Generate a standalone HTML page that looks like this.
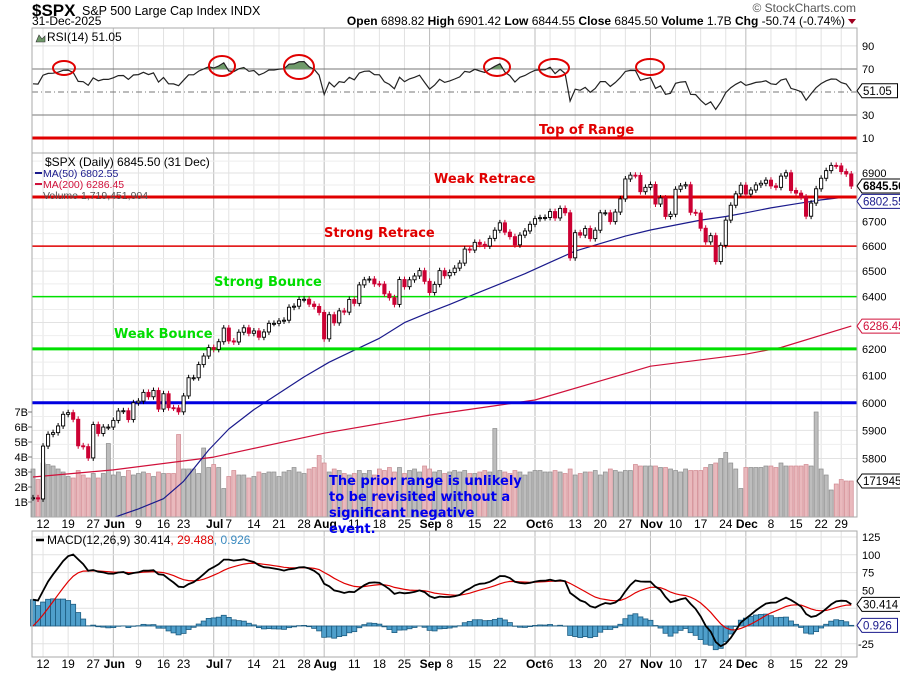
<!DOCTYPE html>
<html><head><meta charset="utf-8"><style>
html,body{margin:0;padding:0;background:#fff;}
svg{display:block;font-family:"Liberation Sans",sans-serif;}
.ann{font-family:"DejaVu Sans","Liberation Sans",sans-serif;font-weight:bold;font-size:13px;}
</style></head><body>
<svg id="c" width="900" height="673" viewBox="0 0 900 673">
  <g>
    <text x="32" y="16" font-size="17" font-weight="bold">$SPX</text>
    <text x="82" y="15" font-size="12.5">S&amp;P 500 Large Cap Index  INDX</text>
    <text x="32" y="25" font-size="12">31-Dec-2025</text>
    <text x="856" y="12" font-size="12" fill="#555" text-anchor="end">© StockCharts.com</text>
    <text x="845" y="25" font-size="12" text-anchor="end"><tspan font-weight="bold">Open</tspan> 6898.82  <tspan font-weight="bold">High</tspan> 6901.42  <tspan font-weight="bold">Low</tspan> 6844.55  <tspan font-weight="bold">Close</tspan> 6845.50  <tspan font-weight="bold">Volume</tspan> 1.7B  <tspan font-weight="bold">Chg</tspan> -50.74 (-0.74%)</text>
    <polygon points="848,19 856,19 852,24" fill="#a00020"/>
  </g>
  <g id="grid"></g>
  <g id="rsi"></g>
  <g id="price"></g>
  <g id="macd"></g>
  <g id="axes"></g>
  <g id="anns">
    <text class="ann" x="539" y="134" fill="#e00000">Top of Range</text>
    <text class="ann" x="434" y="183" fill="#e00000">Weak Retrace</text>
    <text class="ann" x="324" y="237" fill="#e00000">Strong Retrace</text>
    <text class="ann" x="214" y="286" fill="#00dd00">Strong Bounce</text>
    <text class="ann" x="114" y="338" fill="#00dd00">Weak Bounce</text>
    <text class="ann" fill="#0000ee"><tspan x="329" y="485">The prior range is unlikely</tspan><tspan x="329" y="501">to be revisited without a</tspan><tspan x="329" y="517">significant negative</tspan><tspan x="329" y="533">event.</tspan></text>
  </g>
</svg>
<script>
const closes=[5663,5659,5844,5886,5892,5916,5958,5964,5940,5845,5842,5802,5921,5889,5912,5912,
5936,5970,5971,5939,6000,6006,6038,6022,6045,5977,6033,5982,5981,5967,6025,6092,6092,6141,6173,6205,
6198,6227,6279,6230,6226,6263,6280,6259,6268,6244,6264,6297,6297,6306,6309,6359,6363,6389,6390,6371,6362,6339,
6238,6330,6299,6345,6340,6389,6374,6446,6466,6469,6450,6449,6411,6396,6370,6467,6439,6466,6481,6502,6460,
6416,6448,6502,6482,6495,6512,6532,6588,6584,6615,6607,6600,6631,6664,6694,6656,6638,6605,6644,6661,6688,
6711,6715,6716,6740,6714,6753,6735,6553,6654,6644,6671,6630,6664,6735,6735,6699,6738,6792,6875,6891,6890,6822,6840,
6852,6771,6796,6720,6729,6832,6846,6851,6737,6734,6672,6617,6642,6538,6603,6705,6766,6813,6849,
6812,6829,6850,6857,6870,6846,6840,6887,6901,6827,6816,6800,6721,6775,6834,6878,6910,6932,6930,6906,6896,6845.5];
const volumes=[3.2,2.5,3.6,3.5,3.4,3.2,3.0,2.7,2.6,3.1,2.8,2.6,2.9,2.6,2.9,4.9,
2.8,3.0,2.7,3.1,2.8,2.9,3.0,2.9,2.7,3.0,2.9,2.9,2.9,5.5,3.2,3.2,3.2,2.9,4.6,3.3,
3.5,3.3,1.9,2.7,3.1,2.8,2.8,2.6,2.7,3.0,2.9,3.0,3.0,2.7,3.0,3.1,3.3,3.0,2.9,3.2,3.3,4.1,
3.6,3.0,3.2,3.1,2.9,2.8,2.9,3.1,2.9,3.1,2.8,3.2,3.1,3.3,3.0,3.3,2.9,3.1,3.2,3.0,3.4,
3.2,3.0,3.1,2.9,3.0,3.1,3.0,3.1,2.9,2.9,3.0,3.1,3.0,5.9,3.1,3.0,2.9,3.1,3.0,2.8,3.0,
3.1,3.1,3.0,3.0,3.1,3.0,2.9,3.2,2.8,2.9,3.0,3.0,3.1,2.8,3.0,3.2,3.1,3.0,3.1,3.1,3.5,3.4,3.4,
3.4,3.4,3.3,3.3,3.2,3.1,3.0,3.2,3.1,3.1,3.1,3.3,3.5,3.6,3.9,4.3,3.6,3.2,1.9,
3.3,3.3,3.3,3.3,3.4,3.4,3.3,3.6,3.4,3.4,3.4,3.4,3.5,3.4,7.0,3.2,2.8,1.8,2.2,2.5,2.4,2.4];
const ma50Dates=["2025-06-02","2025-06-09","2025-06-16","2025-06-23","2025-06-30","2025-07-07","2025-07-14","2025-07-21","2025-07-28","2025-08-04","2025-08-11","2025-08-18","2025-08-25","2025-09-02","2025-09-08","2025-09-15","2025-09-22","2025-09-29","2025-10-06","2025-10-13","2025-10-20","2025-10-27","2025-11-03","2025-11-10","2025-11-17","2025-11-24","2025-12-01","2025-12-08","2025-12-15","2025-12-22","2025-12-31"];
const ma50Values=[5595,5625,5660,5720,5830,5905,5975,6035,6095,6150,6195,6240,6300,6340,6370,6410,6450,6490,6535,6580,6610,6640,6665,6685,6705,6720,6735,6755,6772,6788,6802.55];
const ma200Dates=["2025-05-08","2025-06-02","2025-07-01","2025-08-01","2025-09-02","2025-10-01","2025-11-03","2025-12-01","2025-12-10","2025-12-31"];
const ma200Values=[5735,5760,5805,5890,5955,6010,6135,6180,6205,6286.45];
const tickDates=["2025-05-12","2025-05-19","2025-05-27","2025-06-02","2025-06-09","2025-06-16","2025-06-23","2025-07-01","2025-07-07","2025-07-14","2025-07-21","2025-07-28","2025-08-01","2025-08-11","2025-08-18","2025-08-25","2025-09-02","2025-09-08","2025-09-15","2025-09-22","2025-10-01","2025-10-06","2025-10-13","2025-10-20","2025-10-27","2025-11-03","2025-11-10","2025-11-17","2025-11-24","2025-12-01","2025-12-08","2025-12-15","2025-12-22","2025-12-29"];
const tickLabels=["12","19","27","Jun","9","16","23","Jul","7","14","21","28","Aug","11","18","25","Sep","8","15","22","Oct","6","13","20","27","Nov","10","17","24","Dec","8","15","22","29"];
const priceTicks=[5800,5900,6000,6100,6200,6300,6400,6500,6600,6700,6800,6900];
const volTicks=[1,2,3,4,5,6,7];
const rsiTicks=[10,30,70,90];
const macdTicks=[-25,0,25,50,75,100,125];
const levels=[6800,6600,6400,6200,6000];

const hol=["2025-05-26","2025-06-19","2025-07-04","2025-09-01","2025-11-27","2025-12-25"];
const days=[];
for(let d=new Date(Date.UTC(2025,4,8));days.length<closes.length;d.setUTCDate(d.getUTCDate()+1)){
  const s=d.toISOString().slice(0,10),w=d.getUTCDay();
  if(w===0||w===6||hol.includes(s))continue; days.push(s);
}
const idx=s=>{let i=days.indexOf(s);if(i<0){i=days.findIndex(x=>x>s);}return i;};
const L=32,R=857,X0=33,DX=5.02;
const x=i=>X0+i*DX;
const yP=p=>173+(Math.log(6900)-Math.log(p))*1644;
const yV=v=>517-v*15;
const yR=v=>92-(v-50)*1.153;
const yM=v=>626-v*0.712;
const NS="http://www.w3.org/2000/svg";
function mk(par,tag,at,txt){const e=document.createElementNS(NS,tag);for(const k in at)e.setAttribute(k,at[k]);if(txt!=null)e.textContent=txt;par.appendChild(e);return e;}
const G=document.getElementById('grid'),A=document.getElementById('axes');
const gR=document.getElementById('rsi'),gP=document.getElementById('price'),gM=document.getElementById('macd');
const panels=[[28,153],[153,517],[531,657]];
tickDates.forEach((d,k)=>{const xi=x(idx(d));const month=isNaN(+tickLabels[k]);
  panels.forEach(p=>{const l=mk(G,'line',{x1:xi,x2:xi,y1:p[0],y2:p[1],stroke:month?'#bbb':'#e2e2e2','stroke-width':1});
    });
  [524,664].forEach(yy=>{const t=mk(A,'text',{x:xi+(month?1:0),y:yy+4,'font-size':12,'text-anchor':'middle','font-weight':month?'bold':'normal'},tickLabels[k]);
    });
});
panels.forEach(p=>{const r=mk(A,'rect',{x:L,y:p[0],width:R-L,height:p[1]-p[0],fill:'none',stroke:'#aaa'});
  });
rsiTicks.forEach(v=>{const l=mk(G,'line',{x1:L,x2:R,y1:yR(v),y2:yR(v),stroke:(v==30||v==70)?'#777':'#ddd'});
  
  const t=mk(A,'text',{x:862,y:yR(v)+4,'font-size':11},v);});
[50].forEach(v=>{const l=mk(G,'line',{x1:L,x2:R,y1:yR(v),y2:yR(v),stroke:'#777','stroke-dasharray':'6,3,1,3'});
  });
let ag=40,al=30;const rsi=[];
for(let i=0;i<closes.length;i++){if(i>0){const ch=closes[i]-closes[i-1];ag=(ag*13+Math.max(ch,0))/14;al=(al*13+Math.max(-ch,0))/14;}rsi.push(100-100/(1+ag/al));}
const rp=rsi.map((v,i)=>x(i).toFixed(1)+','+yR(v).toFixed(1)).join(' ');
const defs=mk(document.getElementById('c'),'defs',{});
const cp=mk(defs,'clipPath',{id:'ob'});mk(cp,'rect',{x:L,y:28,width:R-L,height:yR(70)-28});
const fa=mk(gR,'polygon',{points:x(0)+','+yR(70)+' '+rp+' '+x(rsi.length-1)+','+yR(70),fill:'#6f9a6a','clip-path':'url(#ob)'});

const rl=mk(gR,'polyline',{points:rp,fill:'none',stroke:'#222','stroke-width':1.2});

const circles=[[64,68,11,7],[222,66,13,10],[299,67,15,12],[497,67,13,9],[554,68,15,9],[650,67,14,8]];
circles.forEach(c=>{const e=mk(gR,'ellipse',{cx:c[0],cy:c[1],rx:c[2],ry:c[3],fill:'none',stroke:'#e00000','stroke-width':2});
  });
const trl=mk(gR,'line',{x1:L,x2:R,y1:138,y2:138,stroke:'#e00000','stroke-width':3});

mk(gR,'path',{d:'M36,42 l3,-7 l3,4 l3,-3 v6z',fill:'#6f9a6a',stroke:'#333','stroke-width':0.6});
const rt=mk(gR,'text',{x:47,y:41,'font-size':12},'RSI(14) '+rsi[rsi.length-1].toFixed(2));

function tag(par,yy,txt,col,bold,name){const w=txt.length*6.3+4;
  const p=mk(par,'path',{d:`M857,${yy} l5,-7 h${w} v14 h-${w} z`,fill:'#fff',stroke:col});
  
  const t=mk(par,'text',{x:863,y:yy+4,'font-size':bold?11.5:11.5,fill:bold?'#000':col,'font-weight':bold?'bold':'normal'},txt);
  }
tag(A,yR(rsi[rsi.length-1]),rsi[rsi.length-1].toFixed(2),'#000',false,'rsi-value-tag');
priceTicks.forEach(p=>{const l=mk(G,'line',{x1:L,x2:R,y1:yP(p),y2:yP(p),stroke:'#e2e2e2'});
  
  const l2=mk(G,'line',{x1:L,x2:R,y1:yP(p+50),y2:yP(p+50),stroke:'#eee'});
  
  if(p!==6300&&p!==6800){const t=mk(A,'text',{x:862,y:yP(p)+4,'font-size':11},p);}});
volTicks.forEach(v=>{const t=mk(A,'text',{x:28,y:yV(v)+4,'font-size':11,'text-anchor':'end'},v+'B');
  
  const l=mk(A,'line',{x1:28,x2:32,y1:yV(v),y2:yV(v),stroke:'#777'});});
volumes.forEach((v,i)=>{const dn=i>0&&closes[i]<closes[i-1];
  const r=mk(gP,'rect',{x:x(i)-2,y:yV(v),width:4,height:517-yV(v),fill:dn?'#e9b9bd':'#bdbdbd',stroke:dn?'#d08890':'#8c8c8c','stroke-width':0.7});
  });
function mline(ds,vs,col,name){const pts=ds.map((d,k)=>x(idx(d)).toFixed(1)+','+yP(vs[k]).toFixed(1)).join(' ');
  const cl=mk(gP,'polyline',{points:pts,fill:'none',stroke:col,'stroke-width':1.2,'stroke-linejoin':'round','clip-path':'url(#pc)'});
  }
const cp2=mk(defs,'clipPath',{id:'pc'});mk(cp2,'rect',{x:L,y:153,width:R-L,height:364});
mline(ma200Dates,ma200Values,'#d0103a','ma200-line');
mline(ma50Dates,ma50Values,'#1a1a8c','ma50-line');
const lvStyle={6800:['#e00000',3],6600:['#e00000',1.5],6400:['#00e000',1.5],6200:['#00e000',3],6000:['#0000e0',3]};
levels.forEach(p=>{const l=mk(gP,'line',{x1:L,x2:R,y1:yP(p),y2:yP(p),stroke:lvStyle[p][0],'stroke-width':lvStyle[p][1]});
  });
closes.forEach((c,i)=>{const o=i>0?closes[i-1]:c;const dn=i>0&&c<closes[i-1];const col=dn?'#cc0033':'#000';
  const hi=Math.max(o,c)*1.0018,lo=Math.min(o,c)*0.9982;
  const w=mk(gP,'line',{x1:x(i),x2:x(i),y1:yP(hi),y2:yP(lo),stroke:col,'stroke-width':1});
  
  const top=yP(Math.max(o,c)),bh=Math.max(1,yP(Math.min(o,c))-top);
  const b=mk(gP,'rect',{x:x(i)-1.6,y:top,width:3.2,height:bh,fill:dn?col:'#fff',stroke:col,'stroke-width':0.9});
  });
const lg=[['$SPX (Daily) 6845.50 (31 Dec)','#000'],['MA(50) 6802.55','#1a1a8c'],['MA(200) 6286.45','#d0103a'],['Volume 1,719,451,904','#555']];
lg.forEach((e,k)=>{const t=mk(gP,'text',{x:k==0?45:43,y:166+k*11,'font-size':k==0?12:10.5,fill:e[1]},e[0]);
  
  if(k==1||k==2){const s=mk(gP,'line',{x1:35,x2:42,y1:162+k*11,y2:162+k*11,stroke:e[1],'stroke-width':2});}});
tag(A,yP(6845.5),'6845.50','#000',true,'close-value-tag');
tag(A,yP(6802.55)+5,'6802.55','#1a1a8c',false,'ma50-value-tag');
tag(A,yP(6286.45),'6286.45','#d0103a',false,'ma200-value-tag');
tag(A,yV(volumes[volumes.length-1]),'1719451','#000',false,'volume-value-tag');
macdTicks.forEach(v=>{const l=mk(G,'line',{x1:L,x2:R,y1:yM(v),y2:yM(v),stroke:'#e2e2e2'});
  
  if(v!==0&&v!==25){const t=mk(A,'text',{x:v<0?858:862,y:yM(v)+4,'font-size':11},v);}});
let e12=5640,e26=5603,sg=0;const mac=[],sig=[];
closes.forEach((c,i)=>{if(i>0){e12+=(c-e12)*2/13;e26+=(c-e26)*2/27;}const m=e12-e26;if(i>0)sg+=(m-sg)*0.2;mac.push(m);sig.push(sg);});
const cp3=mk(defs,'clipPath',{id:'mc'});mk(cp3,'rect',{x:L,y:531,width:R-L,height:126});
mac.forEach((m,i)=>{const h=m-sig[i];const y0=yM(0),y1=yM(h);
  const r=mk(gM,'rect',{x:x(i)-2.5,y:Math.min(y0,y1),width:5,height:Math.abs(y1-y0),fill:'#4f9fcb',stroke:'#1d5d82','stroke-width':0.8});
  });
const sl=mk(gM,'polyline',{points:sig.map((v,i)=>x(i).toFixed(1)+','+yM(v).toFixed(1)).join(' '),fill:'none',stroke:'#e00000','stroke-width':1.2,'clip-path':'url(#mc)'});

const ml=mk(gM,'polyline',{points:mac.map((v,i)=>x(i).toFixed(1)+','+yM(v).toFixed(1)).join(' '),fill:'none',stroke:'#000','stroke-width':1.8,'clip-path':'url(#mc)'});

const mlast=mac[mac.length-1],slast=sig[sig.length-1];
mk(gM,'line',{x1:36,x2:44,y1:540,y2:540,stroke:'#000','stroke-width':2.5});
const mt=mk(gM,'text',{x:47,y:544,'font-size':12});

mk(mt,'tspan',{},'MACD(12,26,9) '+mlast.toFixed(3));mk(mt,'tspan',{fill:'#e00000'},', '+slast.toFixed(3));mk(mt,'tspan',{fill:'#3a8ac0'},', '+(mlast-slast).toFixed(3));
tag(A,yM(mlast),mlast.toFixed(3),'#000',false,'macd-value-tag');
tag(A,yM(mlast-slast),(mlast-slast).toFixed(3),'#1a1a8c',false,'histogram-value-tag');
</script>
</body></html>
